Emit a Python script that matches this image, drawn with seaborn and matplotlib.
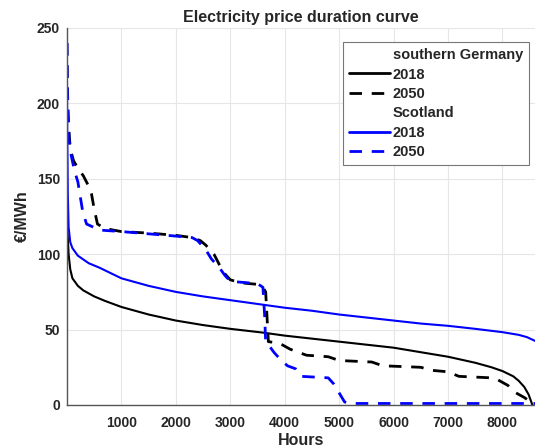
import matplotlib
matplotlib.use("Agg")
import matplotlib.pyplot as plt
import seaborn as sns
from matplotlib.lines import Line2D

# ---- data ----
de2018_h = [0, 10, 30, 60, 100, 200, 300, 500, 700, 1000, 1500, 2000, 2500, 3000, 3600, 4000, 4500,
            5000, 5500, 6000, 6500, 7000, 7500, 7800, 8000, 8200, 8300, 8400, 8480, 8520, 8550]
de2018_v = [128, 115, 100, 90, 84, 79, 76, 72, 69, 65, 60, 56, 53, 50.5, 48, 46, 44,
            42, 40, 38, 35, 32, 28, 25, 22.5, 19, 16, 12, 7, 3, 0]

sc2018_h = [0, 5, 15, 30, 60, 100, 200, 400, 600, 1000, 1500, 2000, 2500, 3000, 3600, 4000, 4500,
            5000, 5500, 6000, 6500, 7000, 7500, 8000, 8300, 8450, 8600]
sc2018_v = [215, 180, 140, 118, 108, 104, 99, 94, 91, 84, 79, 75, 72, 69.5, 66.5, 64.5, 62.5,
            60, 58, 56, 54, 52.5, 50.5, 48.3, 46.5, 45, 42.5]

de2050_h = [0, 5, 15, 30, 60, 120, 200, 300, 400, 450, 500, 560, 700, 1000, 1500, 2000, 2300, 2450,
            2550, 2700, 2800, 2900, 3000, 3200, 3500, 3600, 3650, 3680, 3700, 3900, 4100, 4400, 4800,
            5000, 5600, 5800, 6500, 6700, 7000, 7200, 7800, 7900, 8100, 8250, 8400, 8480, 8530]
de2050_v = [240, 220, 200, 185, 170, 162, 157, 152, 145, 140, 130, 120, 117, 115, 114, 112.5, 111, 109,
            106, 100, 93, 87, 83, 81, 80, 78, 75, 55, 42, 41, 37, 33, 32,
            29.5, 28.5, 26, 25, 23, 22, 19, 18, 17, 13, 8, 5, 3, 0]

sc2050_h = [0, 5, 10, 20, 40, 80, 140, 200, 290, 360, 600, 1000, 1500, 2000, 2300, 2400, 2550, 2650,
            2800, 2900, 3000, 3500, 3600, 3630, 3650, 3700, 3800, 3900, 4050, 4200, 4300, 4800, 4900,
            5000, 5100, 5200, 8600]
sc2050_v = [240, 215, 200, 190, 175, 165, 155, 148, 128, 120, 116, 115, 113.5, 112, 111, 109, 103, 97,
            91, 86, 82, 80.5, 78, 60, 42, 40, 35, 31, 26, 24, 19, 18, 14,
            8, 2, 1, 1]

x_ticks = [1000, 2000, 3000, 4000, 5000, 6000, 7000, 8000]
y_ticks = [0, 50, 100, 150, 200, 250]

# ---- style ----
sns.set_style("whitegrid")
plt.rcParams['font.family'] = ['Liberation Sans', 'DejaVu Sans']
plt.rcParams['font.weight'] = 'bold'

fig = plt.figure(figsize=(5.35, 4.48), dpi=100)
ax = fig.add_axes([0.1252, 0.096, 0.875, 0.8415])

dash = (4.5, 3.5)
sns.lineplot(x=de2018_h, y=de2018_v, ax=ax, color='black', lw=1.5, estimator=None)
sns.lineplot(x=de2050_h, y=de2050_v, ax=ax, color='black', lw=2.0, estimator=None)
ax.lines[-1].set_dashes(dash)
sns.lineplot(x=sc2018_h, y=sc2018_v, ax=ax, color='blue', lw=1.5, estimator=None)
sns.lineplot(x=sc2050_h, y=sc2050_v, ax=ax, color='blue', lw=2.0, estimator=None)
ax.lines[-1].set_dashes(dash)

ax.set_xlim(0, 8600)
ax.set_ylim(0, 250)
ax.set_xticks(x_ticks)
ax.set_yticks(y_ticks)
ax.grid(True, color='#e6e6e6', lw=0.8)
for s in ['top', 'right']:
    ax.spines[s].set_visible(False)
for s in ['left', 'bottom']:
    ax.spines[s].set_color('#555555')
    ax.spines[s].set_linewidth(1.0)
ax.tick_params(axis='both', direction='in', length=3, width=0.8, color='#555555',
               labelsize=10, labelcolor='#262626')
ax.tick_params(axis='x', pad=8)
ax.tick_params(axis='y', pad=5)
for lab in ax.get_xticklabels() + ax.get_yticklabels():
    lab.set_fontweight('bold')

ax.set_title('Electricity price duration curve', fontsize=11.5, fontweight='bold', pad=4)
ax.set_xlabel('Hours', fontsize=11.5, fontweight='bold', labelpad=2)
ax.set_ylabel('€/MWh', fontsize=11.5, fontweight='bold', labelpad=5)

handles = [
    Line2D([], [], color='none'),
    Line2D([], [], color='black', lw=2),
    Line2D([], [], color='black', lw=2, dashes=dash),
    Line2D([], [], color='none'),
    Line2D([], [], color='blue', lw=2),
    Line2D([], [], color='blue', lw=2, dashes=dash),
]
labels = ['southern Germany', '2018', '2050', 'Scotland', '2018', '2050']
leg = ax.legend(handles, labels, loc='upper right', bbox_to_anchor=(0.987, 0.962),
                prop={'weight': 'bold', 'size': 10.5}, frameon=True, fancybox=False,
                edgecolor='#777777', framealpha=1, handlelength=2.8, handletextpad=0.2,
                labelspacing=0.37, borderpad=0.4, borderaxespad=0)
leg.get_frame().set_linewidth(0.8)

fig.savefig('out.png', dpi=100)
